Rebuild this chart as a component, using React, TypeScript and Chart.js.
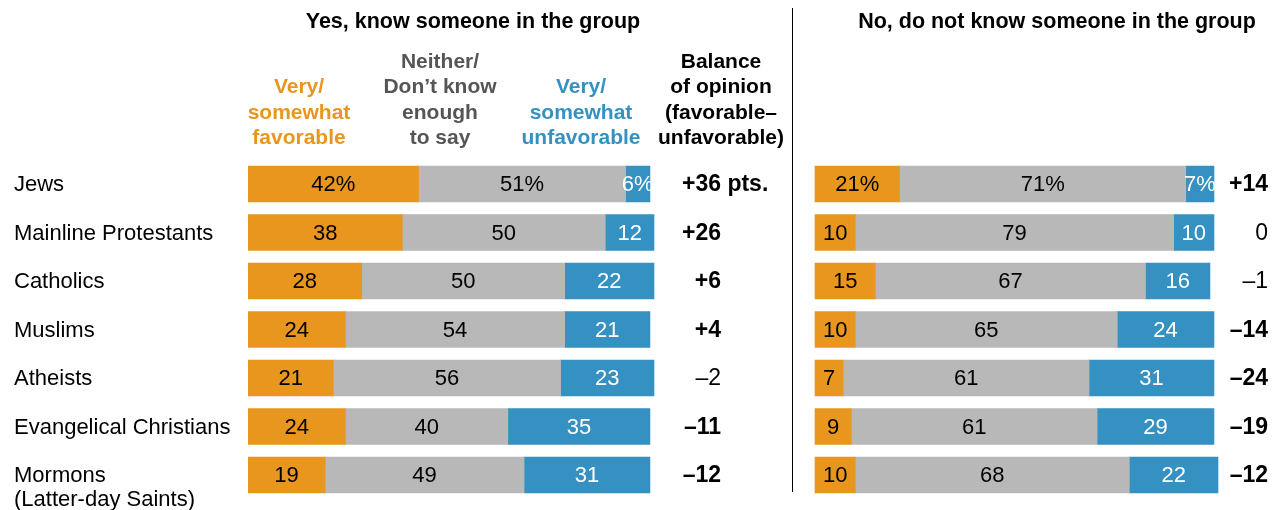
import React, { useEffect, useRef } from "react";
import { Chart, registerables } from "chart.js";

Chart.register(...registerables);

const categories: string[][] = [
  ["Jews"],
  ["Mainline Protestants"],
  ["Catholics"],
  ["Muslims"],
  ["Atheists"],
  ["Evangelical Christians"],
  ["Mormons", "(Latter-day Saints)"],
];

const knowFavorable = [42, 38, 28, 24, 21, 24, 19];
const knowNeither = [51, 50, 50, 54, 56, 40, 49];
const knowUnfavorable = [6, 12, 22, 21, 23, 35, 31];
const knowBalance = ["+36", "+26", "+6", "+4", "–2", "–11", "–12"];
const knowBalanceBold = [true, true, true, true, false, true, true];

const dontFavorable = [21, 10, 15, 10, 7, 9, 10];
const dontNeither = [71, 79, 67, 65, 61, 61, 68];
const dontUnfavorable = [7, 10, 16, 24, 31, 29, 22];
const dontBalance = ["+14", "0", "–1", "–14", "–24", "–19", "–12"];
const dontBalanceBold = [true, false, false, true, true, true, true];

const panelTitles = ["Yes, know someone in the group", "No, do not know someone in the group"];
const headerFavorable = ["Very/", "somewhat", "favorable"];
const headerNeither = ["Neither/", "Don’t know", "enough", "to say"];
const headerUnfavorable = ["Very/", "somewhat", "unfavorable"];
const headerBalance = ["Balance", "of opinion", "(favorable–", "unfavorable)"];

const ORANGE = "#E8961E";
const GRAY = "#B8B8B8";
const BLUE = "#3491C1";
const FONT = "'Liberation Sans', Arial, sans-serif";

export default function App() {
  const ref = useRef<HTMLCanvasElement | null>(null);

  useEffect(() => {
    const canvas = ref.current;
    if (!canvas) return;
    const W = 1281;
    const areaLeft = 248;
    const areaRight = 1226;
    const rightZero = 815;
    const kL = 4.06;
    const kR = 4.03;

    const textPlugin = {
      id: "textPlugin",
      afterDatasetsDraw(chart: any) {
        const ctx = chart.ctx as CanvasRenderingContext2D;
        const yScale = chart.scales.y;
        ctx.save();
        // data labels
        chart.data.datasets.forEach((ds: any, di: number) => {
          const meta = chart.getDatasetMeta(di);
          meta.data.forEach((bar: any, i: number) => {
            const v = ds.data[i];
            const cx = (bar.x + bar.base) / 2;
            ctx.font = `22px ${FONT}`;
            ctx.textAlign = "center";
            ctx.textBaseline = "middle";
            ctx.fillStyle = ds.labelColor;
            ctx.fillText(i === 0 ? `${v}%` : `${v}`, cx, bar.y + 1);
          });
        });
        // category labels and balances
        categories.forEach((lines, i) => {
          const y = yScale.getPixelForValue(i);
          ctx.font = `22px ${FONT}`;
          ctx.textAlign = "left";
          ctx.textBaseline = "middle";
          ctx.fillStyle = "#000";
          lines.forEach((ln, li) => ctx.fillText(ln, 14, y + 1 + li * 24));
          // left balance
          ctx.textAlign = "right";
          ctx.font = `${knowBalanceBold[i] ? "bold " : ""}23px ${FONT}`;
          ctx.fillText(knowBalance[i], 721, y + 1);
          if (i === 0) {
            ctx.textAlign = "left";
            ctx.fillText(" pts.", 721, y + 1);
          }
          ctx.textAlign = "right";
          ctx.font = `${dontBalanceBold[i] ? "bold " : ""}23px ${FONT}`;
          ctx.fillText(dontBalance[i], 1268, y + 1);
        });
        // headers
        ctx.textAlign = "center";
        ctx.textBaseline = "middle";
        ctx.fillStyle = "#000";
        ctx.font = `bold 21.5px ${FONT}`;
        ctx.fillText(panelTitles[0], 473, 22);
        ctx.fillText(panelTitles[1], 1057, 22);
        ctx.font = `bold 21px ${FONT}`;
        const lineYs = [62, 87.5, 113, 138.5];
        const drawHeader = (lines: string[], x: number, color: string) => {
          ctx.fillStyle = color;
          const start = 4 - lines.length;
          lines.forEach((ln, li) => ctx.fillText(ln, x, lineYs[start + li]));
        };
        drawHeader(headerFavorable, 299, ORANGE);
        drawHeader(headerNeither, 440, "#555555");
        drawHeader(headerUnfavorable, 581, BLUE);
        drawHeader(headerBalance, 721, "#000000");
        // divider
        ctx.strokeStyle = "#000";
        ctx.lineWidth = 1;
        ctx.beginPath();
        ctx.moveTo(792.5, 8);
        ctx.lineTo(792.5, 492);
        ctx.stroke();
        ctx.restore();
      },
    };

    const mk = (label: string, data: number[], color: string, axis: string, stack: string, labelColor: string) => ({
      label,
      data,
      backgroundColor: color,
      xAxisID: axis,
      stack,
      grouped: false,
      barThickness: 36,
      borderWidth: 0,
      labelColor,
    });

    const chart = new Chart(canvas, {
      type: "bar",
      data: {
        labels: categories.map((c) => c.join(" ")),
        datasets: [
          mk("Know: favorable", knowFavorable, ORANGE, "xL", "L", "#000"),
          mk("Know: neither", knowNeither, GRAY, "xL", "L", "#000"),
          mk("Know: unfavorable", knowUnfavorable, BLUE, "xL", "L", "#fff"),
          mk("Don't know: favorable", dontFavorable, ORANGE, "xR", "R", "#000"),
          mk("Don't know: neither", dontNeither, GRAY, "xR", "R", "#000"),
          mk("Don't know: unfavorable", dontUnfavorable, BLUE, "xR", "R", "#fff"),
        ] as any,
      },
      options: {
        indexAxis: "y",
        responsive: false,
        animation: false,
        layout: {
          padding: { left: areaLeft, right: W - areaRight, top: 159.75, bottom: 10.75 },
        },
        plugins: { legend: { display: false }, tooltip: { enabled: false }, title: { display: false } },
        scales: {
          y: { type: "category", display: false, offset: true, grid: { display: false } },
          xL: {
            type: "linear",
            axis: "x",
            display: false,
            stacked: true,
            min: 0,
            max: (areaRight - areaLeft) / kL,
          },
          xR: {
            type: "linear",
            axis: "x",
            display: false,
            stacked: true,
            min: -(rightZero - areaLeft) / kR,
            max: (areaRight - rightZero) / kR,
          },
        } as any,
      },
      plugins: [textPlugin],
    });
    return () => chart.destroy();
  }, []);

  return (
    <div style={{ position: "absolute", left: 0, top: 0, width: 1281, height: 510, background: "#fff" }}>
      <canvas ref={ref} width={1281} height={510} style={{ display: "block" }} />
    </div>
  );
}
